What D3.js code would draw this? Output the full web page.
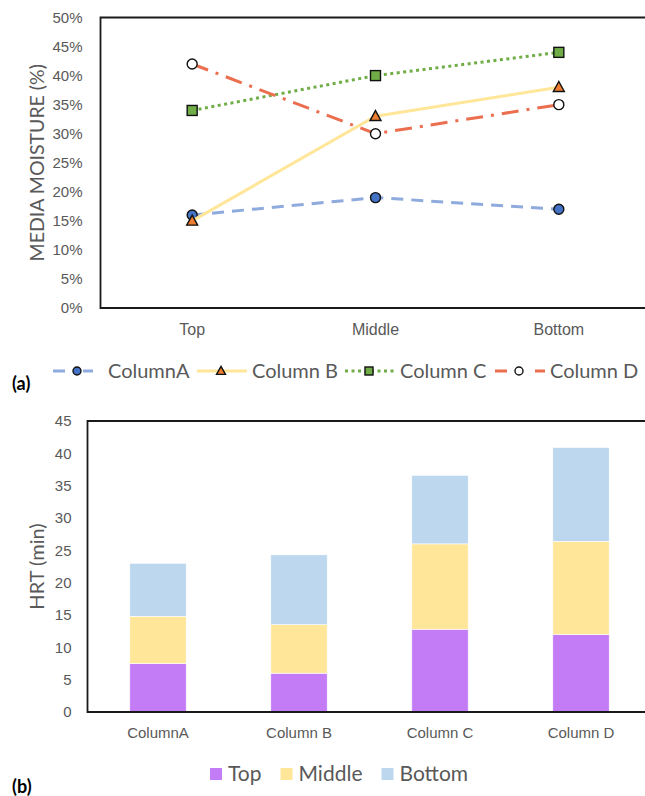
<!DOCTYPE html>
<html lang="en">
<head>
  <meta charset="UTF-8" />
  <title>Media moisture and HRT</title>
  <script src="https://d3js.org/d3.v7.min.js"></script>
  <style>
    body {
      margin: 0;
      background: #fff;
      overflow: hidden;
      font-family: Lato, "Open Sans", sans-serif;
    }
    svg { display: block; }
    .tick text { fill: #595959; }
    .title { fill: #595959; }
    .legend text { fill: #595959; }
    .panel { font-weight: bold; fill: #000; }
  </style>
</head>
<body>
  <svg width="645" height="796"></svg>
  <script>
    // (a) media moisture by depth
    const positions = ["Top", "Middle", "Bottom"];
    const columnA = [0.16, 0.19, 0.17];
    const columnB = [0.15, 0.33, 0.38];
    const columnC = [0.34, 0.40, 0.44];
    const columnD = [0.42, 0.30, 0.35];
    const moistureTicks = [0, 0.05, 0.1, 0.15, 0.2, 0.25, 0.3, 0.35, 0.4, 0.45, 0.5];

    // (b) hydraulic retention time per column, stacked by depth
    const columns = ["ColumnA", "Column B", "Column C", "Column D"];
    const hrtTop = [7.5, 6.0, 12.8, 12.0];
    const hrtMiddle = [7.3, 7.5, 13.2, 14.4];
    const hrtBottom = [8.2, 10.8, 10.6, 14.5];
    const hrtTicks = [0, 5, 10, 15, 20, 25, 30, 35, 40, 45];

    const svg = d3.select("svg");
    const frameColor = "#1a1a1a";

    // ---------- chart (a) ----------
    const a = { left: 100.5, right: 650.5, top: 17.5, bottom: 308 };
    const xA = d3.scaleBand().domain(positions).range([a.left, a.right]);
    const yA = d3.scaleLinear().domain([0, 0.5]).range([a.bottom, a.top]);

    const gA = svg.append("g");

    gA.append("g")
      .attr("transform", `translate(${a.left - 18},0)`)
      .call(d3.axisLeft(yA).tickValues(moistureTicks).tickSize(0).tickPadding(0).tickFormat(d3.format(".0%")))
      .call(g => g.select(".domain").remove())
      .selectAll("text")
      .style("font-size", "15px");

    gA.append("g")
      .attr("transform", `translate(0,${a.bottom + 21})`)
      .call(d3.axisBottom(xA).tickSize(0).tickPadding(0))
      .call(g => g.select(".domain").remove())
      .selectAll("text")
      .attr("dy", "0.35em")
      .style("font-size", "16px");

    gA.append("text")
      .attr("class", "title")
      .attr("transform", `translate(44,${(a.top + a.bottom) / 2}) rotate(-90)`)
      .attr("text-anchor", "middle")
      .style("font-size", "19.5px")
      .text("MEDIA MOISTURE (%)");

    gA.append("path")
      .attr("d", `M${a.right + 20},${a.top}H${a.left}V${a.bottom}H${a.right + 20}`)
      .attr("fill", "none")
      .attr("stroke", frameColor)
      .attr("stroke-width", 1.8);

    const series = [
      { name: "ColumnA", values: columnA, color: "#8FAADC", dash: "12,8", legendDash: "12,18,10,10", marker: "circle", fill: "#4472C4" },
      { name: "Column B", values: columnB, color: "#FFE699", dash: null, legendDash: null, marker: "triangle", fill: "#ED7D31" },
      { name: "Column C", values: columnC, color: "#70AD47", dash: "3,3.5", legendDash: "3,3.5", marker: "square", fill: "#70AD47" },
      { name: "Column D", values: columnD, color: "#EB6E4F", dash: "17,8,3,8", legendDash: "12,28,10", marker: "circle", fill: "#FFFFFF" }
    ];

    const xMid = d => xA(d) + xA.bandwidth() / 2;
    const line = d3.line().x(d => xMid(d.pos)).y(d => yA(d.v));

    function drawMarker(g, type, fill, size) {
      if (type === "circle") {
        g.append("circle").attr("r", size / 2);
      } else if (type === "square") {
        g.append("rect").attr("x", -size / 2).attr("y", -size / 2).attr("width", size).attr("height", size);
      } else {
        const h = size * 0.95;
        g.append("path").attr("d", `M0,${-h * 0.6}L${size / 2 + 0.5},${h * 0.45}L${-size / 2 - 0.5},${h * 0.45}Z`);
      }
      g.selectAll("*").attr("fill", fill).attr("stroke", "#111").attr("stroke-width", 1.4);
    }

    series.forEach(s => {
      const pts = positions.map((p, i) => ({ pos: p, v: s.values[i] }));
      gA.append("path")
        .datum(pts)
        .attr("d", line)
        .attr("fill", "none")
        .attr("stroke", s.color)
        .attr("stroke-width", 3)
        .attr("stroke-dasharray", s.dash);
      gA.append("g").selectAll("g")
        .data(pts)
        .join("g")
        .attr("transform", d => `translate(${xMid(d.pos)},${yA(d.v)})`)
        .each(function () { drawMarker(d3.select(this), s.marker, s.fill, 10); });
    });

    // legend (a)
    const legA = svg.append("g").attr("class", "legend");
    const legendStarts = [53, 197, 345, 495];
    const ly = 371;
    series.forEach((s, i) => {
      const item = legA.append("g").attr("transform", `translate(${legendStarts[i]},${ly})`);
      item.append("line")
        .attr("x1", 0).attr("x2", 50)
        .attr("stroke", s.color)
        .attr("stroke-width", 3)
        .attr("stroke-dasharray", s.legendDash);
      drawMarker(item.append("g").attr("transform", "translate(24,0)"), s.marker, s.fill, 8);
      item.append("text")
        .attr("x", 55)
        .attr("dy", "0.35em")
        .style("font-size", "20px")
        .text(s.name);
    });

    svg.append("text").attr("class", "panel")
      .attr("x", 12).attr("y", 390)
      .style("font-size", "18px")
      .text("(a)");

    // ---------- chart (b) ----------
    const b = { left: 87.5, right: 651.5, top: 421, bottom: 712 };
    const xB = d3.scaleBand().domain(columns).range([b.left, b.right]);
    const yB = d3.scaleLinear().domain([0, 45]).range([b.bottom, b.top]);

    const gB = svg.append("g");

    gB.append("g")
      .attr("transform", `translate(${b.left - 16},0)`)
      .call(d3.axisLeft(yB).tickValues(hrtTicks).tickSize(0).tickPadding(0))
      .call(g => g.select(".domain").remove())
      .selectAll("text")
      .style("font-size", "15px");

    gB.append("g")
      .attr("transform", `translate(0,${b.bottom + 21})`)
      .call(d3.axisBottom(xB).tickSize(0).tickPadding(0))
      .call(g => g.select(".domain").remove())
      .selectAll("text")
      .attr("dy", "0.35em")
      .style("font-size", "15px");

    gB.append("text")
      .attr("class", "title")
      .attr("transform", `translate(44,${(b.top + b.bottom) / 2}) rotate(-90)`)
      .attr("text-anchor", "middle")
      .style("font-size", "20px")
      .text("HRT (min)");

    const layers = ["Top", "Middle", "Bottom"];
    const layerColors = { Top: "#C47CF6", Middle: "#FFE699", Bottom: "#BDD7EE" };
    const table = columns.map((c, i) => ({ column: c, Top: hrtTop[i], Middle: hrtMiddle[i], Bottom: hrtBottom[i] }));
    const stacked = d3.stack().keys(layers)(table);
    const barW = xB.bandwidth() * 0.4;

    gB.append("g").selectAll("g")
      .data(stacked)
      .join("g")
      .attr("fill", d => layerColors[d.key])
      .selectAll("rect")
      .data(d => d)
      .join("rect")
      .attr("x", d => xB(d.data.column) + (xB.bandwidth() - barW) / 2)
      .attr("width", barW)
      .attr("y", d => yB(d[1]))
      .attr("height", d => yB(d[0]) - yB(d[1]))
      .attr("stroke", "#fff")
      .attr("stroke-width", 0.6);

    gB.append("path")
      .attr("d", `M${b.right + 20},${b.top}H${b.left}V${b.bottom}H${b.right + 20}`)
      .attr("fill", "none")
      .attr("stroke", frameColor)
      .attr("stroke-width", 1.8);

    // legend (b)
    const legB = svg.append("g").attr("class", "legend");
    let bx = 210;
    const by = 774;
    layers.forEach(k => {
      legB.append("rect")
        .attr("x", bx).attr("y", by - 6)
        .attr("width", 12).attr("height", 12)
        .attr("fill", layerColors[k]);
      const t = legB.append("text")
        .attr("x", bx + 18)
        .attr("y", by)
        .attr("dy", "0.35em")
        .style("font-size", "21px")
        .text(k);
      bx += 18 + t.node().getComputedTextLength() + 19;
    });

    svg.append("text").attr("class", "panel")
      .attr("x", 12).attr("y", 793)
      .style("font-size", "18px")
      .text("(b)");
  </script>
</body>
</html>
